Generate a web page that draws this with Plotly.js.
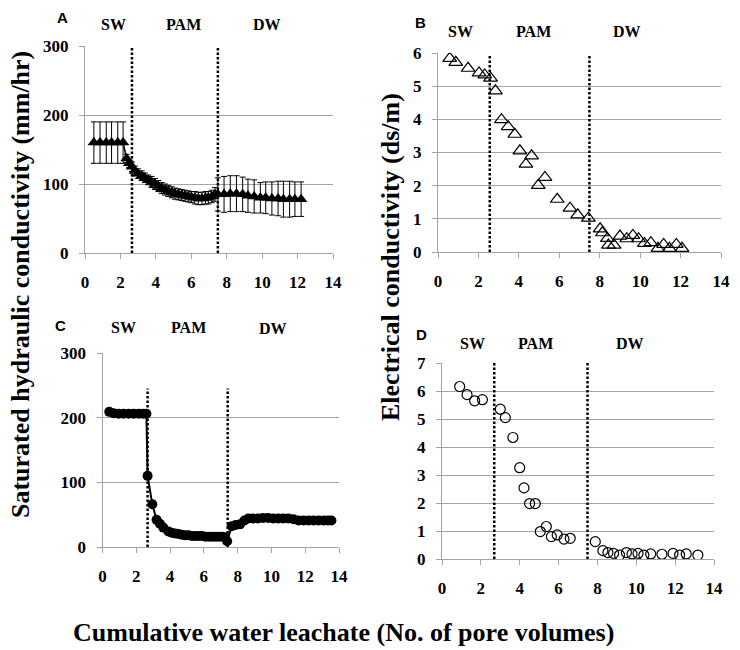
<!DOCTYPE html>
<html>
<head>
<meta charset="utf-8">
<script src="https://cdn.plot.ly/plotly-3.0.1.min.js"></script>
<style>
html,body{margin:0;padding:0;background:#fff;}
#chart{width:740px;height:650px;}
</style>
</head>
<body>
<div id="chart"></div>
<script>
// ---------- Panel A: saturated hydraulic conductivity (mm/hr), with error bars ----------
const A_x = [0.5, 0.85, 1.2, 1.5, 1.85, 2.15, 2.35, 2.5, 2.65, 2.82, 3.0, 3.2, 3.38, 3.57, 3.76, 3.95, 4.14, 4.33, 4.52, 4.7, 4.9, 5.08, 5.27, 5.46, 5.65, 5.83, 6.0, 6.2, 6.4, 6.6, 6.8, 6.96, 7.15, 7.34, 7.5, 7.85, 8.2, 8.55, 8.9, 9.2, 9.55, 9.9, 10.2, 10.55, 10.9, 11.2, 11.55, 11.85, 12.2];
const A_y = [160, 160, 160, 160, 160, 160, 137, 130, 125, 119, 115, 112, 109, 106, 103, 100, 97, 94, 92, 90, 88, 86, 85, 84, 83, 82, 81, 80, 79, 79, 80, 80, 82, 85, 85, 85, 86, 86, 85, 83, 82, 80, 80, 79, 79, 78, 78, 78, 78];
const A_err = [30, 30, 30, 30, 30, 30, 6, 6, 7, 7, 7, 7, 7, 7, 8, 8, 8, 8, 8, 8, 8, 8, 8, 8, 8, 8, 8, 9, 9, 9, 9, 9, 9, 10, 24, 26, 26, 26, 25, 24, 24, 22, 23, 24, 25, 26, 26, 25, 25];

// ---------- Panel B: electrical conductivity (ds/m) ----------
const B_x = [0.58, 0.88, 1.49, 2.03, 2.31, 2.6, 2.84, 3.14, 3.47, 3.8, 4.05, 4.63, 4.35, 4.96, 5.29, 5.9, 6.53, 6.91, 7.44, 8.02, 8.13, 8.38, 8.43, 8.71, 9.0, 9.34, 9.64, 9.92, 10.21, 10.53, 10.88, 11.16, 11.45, 11.79, 12.07];
const B_y = [5.84, 5.72, 5.54, 5.40, 5.34, 5.24, 4.86, 3.99, 3.78, 3.55, 3.05, 2.9, 2.65, 2.01, 2.25, 1.59, 1.32, 1.12, 1.02, 0.70, 0.58, 0.41, 0.21, 0.21, 0.48, 0.40, 0.50, 0.40, 0.26, 0.28, 0.11, 0.23, 0.11, 0.23, 0.11];

// ---------- Panel C: saturated hydraulic conductivity (mm/hr) ----------
const C_x = [0.4, 0.65, 0.95, 1.25, 1.55, 1.85, 2.15, 2.4, 2.6, 2.67, 2.95, 3.2, 3.4, 3.6, 3.9, 4.1, 4.3, 4.5, 4.7, 4.9, 5.1, 5.3, 5.5, 5.7, 5.9, 6.1, 6.3, 6.5, 6.7, 6.9, 7.1, 7.25, 7.38, 7.65, 7.88, 8.14, 8.4, 8.63, 8.9, 9.2, 9.5, 9.8, 10.1, 10.4, 10.7, 11.0, 11.3, 11.6, 11.9, 12.2, 12.5, 12.8, 13.1, 13.35, 13.55];
const C_y = [209, 207, 206, 206, 206, 206, 206, 206, 206, 110, 66, 42, 36, 30, 24, 22, 21, 20, 19, 18, 18, 17, 17, 17, 17, 16, 16, 16, 16, 16, 16, 15, 9, 32, 34, 35, 41, 44, 44, 44, 45, 45, 44, 44, 44, 44, 43, 41, 41, 41, 41, 41, 41, 41, 41];

// ---------- Panel D: electrical conductivity (ds/m) ----------
const D_x = [0.91, 1.29, 1.68, 2.08, 3.0, 3.26, 3.65, 4.0, 4.22, 4.51, 4.8, 5.06, 5.37, 5.63, 5.93, 6.28, 6.6, 7.89, 8.28, 8.54, 8.83, 9.14, 9.49, 9.78, 10.09, 10.39, 10.74, 11.32, 11.89, 12.23, 12.57, 13.17];
const D_y = [6.16, 5.87, 5.65, 5.69, 5.35, 5.05, 4.34, 3.26, 2.54, 1.98, 1.98, 0.98, 1.16, 0.80, 0.86, 0.71, 0.74, 0.62, 0.30, 0.23, 0.20, 0.14, 0.23, 0.18, 0.20, 0.14, 0.18, 0.17, 0.20, 0.14, 0.18, 0.14];

// Phase boundaries (pore volumes) for each panel
const A_bounds = [2.65, 7.5];
const B_bounds = [2.56, 7.49];
const C_bounds = [2.67, 7.41];
const D_bounds = [2.69, 7.49];

const phaseLabels = ['SW', 'PAM', 'DW'];
const panelLetters = ['A', 'B', 'C', 'D'];

const W = 740, H = 650;
const px = v => v / W;
const py = v => 1 - v / H;

const gridC = '#a3a3a3';

function xa(domain) {
  return {domain: domain, range: [0, 14], tick0: 0, dtick: 2, showgrid: false, zeroline: false,
    showline: true, linecolor: gridC, linewidth: 1, ticks: 'outside', ticklen: 5, tickcolor: gridC,
    tickfont: {family: 'Liberation Serif', size: 17, weight: 700, color: '#000'},
    fixedrange: true, ticklabelstandoff: 9};
}
function ya(domain, range, dtick) {
  return {domain: domain, range: range, tick0: 0, dtick: dtick, showgrid: true, gridcolor: gridC, gridwidth: 1,
    zeroline: false, showline: true, linecolor: gridC, linewidth: 1, ticks: 'outside', ticklen: 5, tickcolor: gridC,
    tickfont: {family: 'Liberation Serif', size: 17, weight: 700, color: '#000'},
    fixedrange: true, ticklabelstandoff: 7};
}

const traces = [
  {x: A_x, y: A_y, xaxis: 'x', yaxis: 'y', type: 'scatter', mode: 'lines+markers',
   line: {color: '#000', width: 1.5},
   marker: {symbol: 'triangle-up', size: 11, color: '#000'},
   error_y: {type: 'data', array: A_err, visible: true, color: '#000', thickness: 1, width: 3}},
  {x: B_x, y: B_y, xaxis: 'x2', yaxis: 'y2', type: 'scatter', mode: 'markers',
   marker: {symbol: 'triangle-up-open', size: 12, color: '#000', line: {width: 1.2, color: '#000'}}},
  {x: C_x, y: C_y, xaxis: 'x3', yaxis: 'y3', type: 'scatter', mode: 'lines+markers',
   line: {color: '#000', width: 2},
   marker: {symbol: 'circle', size: 10, color: '#000'}},
  {x: D_x, y: D_y, xaxis: 'x4', yaxis: 'y4', type: 'scatter', mode: 'markers',
   marker: {symbol: 'circle-open', size: 10, color: '#000', line: {width: 1.2, color: '#000'}}}
];

const dotted = {color: '#000', width: 2.5, dash: '2.5px,2px'};
function vlines(bounds, xr, yr, top) {
  return bounds.map(b => ({type: 'line', xref: xr, yref: yr, x0: b, x1: b, y0: 0, y1: top, line: dotted}));
}
const shapes = [].concat(
  vlines(A_bounds, 'x', 'y', 300),
  vlines(B_bounds, 'x2', 'y2', 5.92),
  vlines(C_bounds, 'x3', 'y3', 245),
  vlines(D_bounds, 'x4', 'y4', 7)
);

const phaseFont = {family: 'Liberation Serif', size: 16, weight: 'bold', color: '#000'};
const letterFont = {family: 'Liberation Sans', size: 15, weight: 'bold', color: '#000'};
const titleFont = {family: 'Liberation Serif', size: 26, weight: 'bold', color: '#000'};

function ann(text, x, y, font, extra) {
  return Object.assign({text: text, x: px(x), y: py(y), xref: 'paper', yref: 'paper', showarrow: false,
    xanchor: 'center', yanchor: 'middle', font: font}, extra || {});
}

// label pixel positions [letter, SW, PAM, DW] per panel
const labelPos = [
  [[62, 17], [113, 25], [183, 25], [267, 25]],
  [[420, 22], [460, 32], [533, 32], [627, 32]],
  [[60, 325], [123, 327], [188, 327], [273, 328]],
  [[422, 335], [472, 343], [535, 343], [630, 343]]
];

const annotations = [];
labelPos.forEach((p, i) => {
  annotations.push(ann(panelLetters[i], p[0][0], p[0][1], letterFont));
  phaseLabels.forEach((t, j) => annotations.push(ann(t, p[j + 1][0], p[j + 1][1], phaseFont)));
});
annotations.push(ann('Saturated hydraulic conductivity (mm/hr)', 20, 285, titleFont, {textangle: -90}));
annotations.push(ann('Electrical conductivity (ds/m)', 390, 257, titleFont, {textangle: -90}));
annotations.push(ann('Cumulative water leachate (No. of pore volumes)', 343, 632, titleFont));

const layout = {
  width: W, height: H, margin: {l: 0, r: 0, t: 0, b: 0},
  font: {family: 'Liberation Serif', size: 17, weight: 700, color: '#000'},
  paper_bgcolor: '#fff', plot_bgcolor: '#fff', showlegend: false,
  xaxis: Object.assign(xa([px(85), px(333)]), {anchor: 'y'}),
  yaxis: Object.assign(ya([py(253), py(46)], [0, 300], 100), {anchor: 'x'}),
  xaxis2: Object.assign(xa([px(438), px(721)]), {anchor: 'y2'}),
  yaxis2: Object.assign(ya([py(252), py(53)], [0, 6], 1), {anchor: 'x2'}),
  xaxis3: Object.assign(xa([px(102.5), px(339)]), {anchor: 'y3'}),
  yaxis3: Object.assign(ya([py(547), py(353)], [0, 300], 100), {anchor: 'x3'}),
  xaxis4: Object.assign(xa([px(442), px(714)]), {anchor: 'y4'}),
  yaxis4: Object.assign(ya([py(559), py(363)], [0, 7], 1), {anchor: 'x4'}),
  shapes: shapes,
  annotations: annotations
};

Plotly.newPlot('chart', traces, layout, {displayModeBar: false, staticPlot: true});
</script>
</body>
</html>
